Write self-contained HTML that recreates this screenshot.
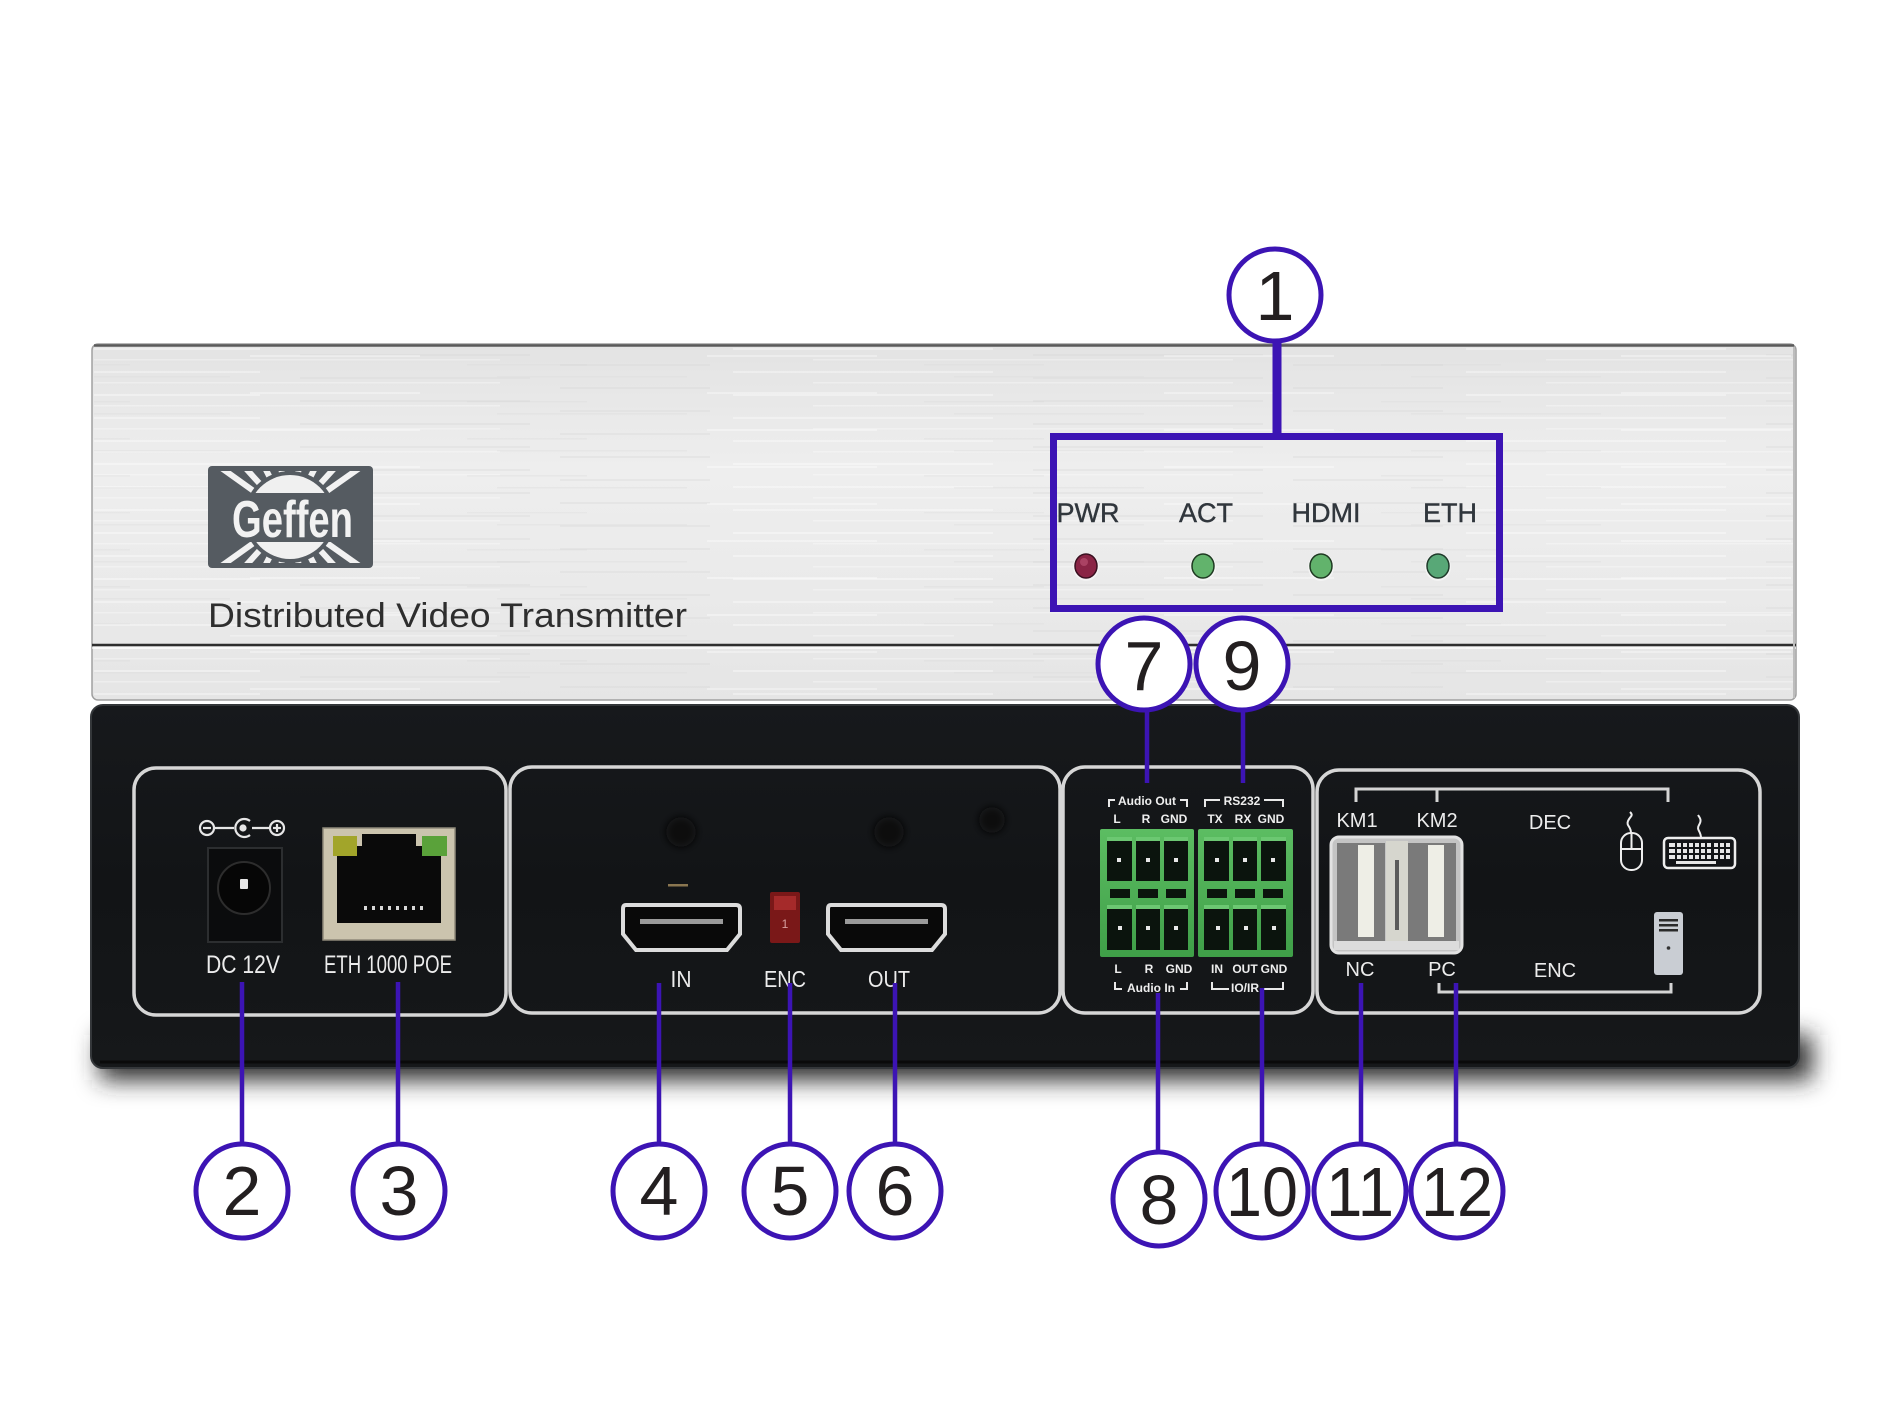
<!DOCTYPE html>
<html>
<head>
<meta charset="utf-8">
<style>
  html,body{margin:0;padding:0;background:#fff;}
  svg{display:block;}
  text{font-family:"Liberation Sans", Arial, sans-serif;}
</style>
</head>
<body>
<svg width="1890" height="1417" viewBox="0 0 1890 1417" xmlns="http://www.w3.org/2000/svg">
  <defs>
    <linearGradient id="silver" x1="0" y1="0" x2="0" y2="1">
      <stop offset="0" stop-color="#e3e3e3"/>
      <stop offset="0.35" stop-color="#eeeeee"/>
      <stop offset="0.7" stop-color="#eaeaea"/>
      <stop offset="1" stop-color="#e5e5e5"/>
    </linearGradient>
    <pattern id="brush" width="733" height="23" patternUnits="userSpaceOnUse">
      <rect x="0" y="3" width="260" height="2" fill="#ffffff" opacity="0.35"/>
      <rect x="300" y="9" width="230" height="2" fill="#d4d4d4" opacity="0.3"/>
      <rect x="80" y="14" width="420" height="1.5" fill="#ffffff" opacity="0.3"/>
      <rect x="560" y="19" width="150" height="2" fill="#d6d6d6" opacity="0.3"/>
    </pattern>
    <pattern id="brush2" width="457" height="37" patternUnits="userSpaceOnUse">
      <rect x="40" y="6" width="190" height="1.5" fill="#d8d8d8" opacity="0.3"/>
      <rect x="250" y="22" width="170" height="2" fill="#ffffff" opacity="0.35"/>
      <rect x="10" y="31" width="120" height="1.5" fill="#d2d2d2" opacity="0.25"/>
    </pattern>
    <linearGradient id="blk" x1="0" y1="0" x2="0" y2="1">
      <stop offset="0" stop-color="#17191c"/>
      <stop offset="0.5" stop-color="#121416"/>
      <stop offset="1" stop-color="#16181a"/>
    </linearGradient>
    <linearGradient id="green" x1="0" y1="0" x2="0" y2="1">
      <stop offset="0" stop-color="#5cbd62"/>
      <stop offset="1" stop-color="#3f9f48"/>
    </linearGradient>
    <filter id="blur" x="-10%" y="-100%" width="120%" height="300%">
      <feGaussianBlur stdDeviation="12"/>
    </filter>
    <filter id="soft" x="-50%" y="-50%" width="200%" height="200%">
      <feGaussianBlur stdDeviation="4"/>
    </filter>
    <clipPath id="logoclip"><rect x="213" y="471" width="155" height="92" rx="2"/></clipPath>
  </defs>

  <rect width="1890" height="1417" fill="#ffffff"/>

  <!-- ===== Silver front panel ===== -->
  <rect x="92" y="344" width="1704" height="356" rx="6" fill="url(#silver)" stroke="#a0a0a0" stroke-width="1.5"/>
  <rect x="94" y="347" width="1700" height="350" fill="url(#brush)"/>
  <rect x="94" y="347" width="1700" height="350" fill="url(#brush2)"/>
  <line x1="94" y1="345.5" x2="1794" y2="345.5" stroke="#5a5a5a" stroke-width="2.5"/>
  <line x1="92" y1="645" x2="1796" y2="645" stroke="#2e2e2e" stroke-width="2.5"/>
  <line x1="92" y1="648" x2="1796" y2="648" stroke="#ffffff" stroke-width="1.5" opacity="0.8"/>
  <line x1="1794" y1="347" x2="1794" y2="698" stroke="#bdbdbd" stroke-width="2"/>

  <!-- Geffen logo -->
  <rect x="208" y="466" width="165" height="102" rx="4" fill="#555b61"/>
  <g clip-path="url(#logoclip)" stroke="#f2f2f2" stroke-width="6">
    <line x1="290" y1="517" x2="213" y2="462"/>
    <line x1="290" y1="517" x2="240" y2="462"/>
    <line x1="290" y1="517" x2="262" y2="462"/>
    <line x1="290" y1="517" x2="280" y2="462"/>
    <line x1="290" y1="517" x2="300" y2="462"/>
    <line x1="290" y1="517" x2="318" y2="462"/>
    <line x1="290" y1="517" x2="340" y2="462"/>
    <line x1="290" y1="517" x2="368" y2="462"/>
    <line x1="290" y1="517" x2="213" y2="572"/>
    <line x1="290" y1="517" x2="240" y2="572"/>
    <line x1="290" y1="517" x2="262" y2="572"/>
    <line x1="290" y1="517" x2="280" y2="572"/>
    <line x1="290" y1="517" x2="300" y2="572"/>
    <line x1="290" y1="517" x2="318" y2="572"/>
    <line x1="290" y1="517" x2="340" y2="572"/>
    <line x1="290" y1="517" x2="368" y2="572"/>
  </g>
  <circle cx="290" cy="517" r="46" fill="#555b61"/>
  <circle cx="290" cy="517" r="42" fill="#f0f0f0"/>
  <rect x="208" y="493" width="165" height="49" fill="#555b61"/>
  <text x="232" y="537" font-size="52" font-weight="bold" fill="#f2f2f2" textLength="121" lengthAdjust="spacingAndGlyphs">Geffen</text>

  <text x="208" y="627" font-size="34" fill="#2e2e2e" textLength="479" lengthAdjust="spacingAndGlyphs">Distributed Video Transmitter</text>

  <!-- LED labels -->
  <g font-size="27" fill="#30363c" text-anchor="middle" stroke="#30363c" stroke-width="0.4">
    <text x="1088" y="522">PWR</text>
    <text x="1206" y="522">ACT</text>
    <text x="1326" y="522">HDMI</text>
    <text x="1450" y="522">ETH</text>
  </g>
  <!-- LEDs -->
  <ellipse cx="1086" cy="567" rx="13" ry="14" fill="#f4f4f4"/>
  <ellipse cx="1086" cy="566" rx="11" ry="12" fill="#8a2445" stroke="#3a1020" stroke-width="1.5"/>
  <ellipse cx="1084" cy="562" rx="4" ry="4" fill="#b85070" opacity="0.7"/>
  <g>
    <ellipse cx="1203" cy="567" rx="13" ry="14" fill="#f4f4f4"/>
    <ellipse cx="1203" cy="566" rx="11" ry="12" fill="#62b36c" stroke="#1f3a22" stroke-width="1.5"/>
    <ellipse cx="1321" cy="567" rx="13" ry="14" fill="#f4f4f4"/>
    <ellipse cx="1321" cy="566" rx="11" ry="12" fill="#62b36c" stroke="#1f3a22" stroke-width="1.5"/>
    <ellipse cx="1438" cy="567" rx="13" ry="14" fill="#f4f4f4"/>
    <ellipse cx="1438" cy="566" rx="11" ry="12" fill="#58a877" stroke="#1f3a2a" stroke-width="1.5"/>
  </g>

  <!-- ===== Shadow + black rear panel ===== -->
  <rect x="100" y="1035" width="1712" height="45" fill="#2a2a2a" filter="url(#blur)"/>
  <rect x="91" y="705" width="1708" height="363" rx="12" fill="url(#blk)" stroke="#34373a" stroke-width="2"/>
  <line x1="100" y1="1062" x2="1790" y2="1062" stroke="#0a0a0a" stroke-width="3"/>

  <!-- Section outlines -->
  <g fill="none" stroke="#d6d6d6" stroke-width="3.5">
    <rect x="134" y="768" width="372" height="247" rx="22"/>
    <rect x="510" y="767" width="550" height="246" rx="22"/>
    <rect x="1063" y="767" width="250" height="246" rx="22"/>
    <rect x="1317" y="770" width="443" height="243" rx="22"/>
  </g>

  <!-- Section 1: DC + ETH -->
  <g stroke="#e6e6e6" stroke-width="2.2" fill="none">
    <circle cx="207" cy="828" r="7"/>
    <line x1="203" y1="828" x2="211" y2="828"/>
    <line x1="214" y1="828" x2="234" y2="828"/>
    <path d="M250,821 A9,9 0 1 0 250,835"/>
    <circle cx="243" cy="828" r="2.5" fill="#e6e6e6"/>
    <line x1="252" y1="828" x2="270" y2="828"/>
    <circle cx="277" cy="828" r="7"/>
    <line x1="273" y1="828" x2="281" y2="828"/>
    <line x1="277" y1="824" x2="277" y2="832"/>
  </g>
  <rect x="208" y="848" width="74" height="94" fill="#0b0c0d" stroke="#2c2e30" stroke-width="2"/>
  <circle cx="244" cy="888" r="26" fill="#060606" stroke="#2d2d2d" stroke-width="2"/>
  <rect x="240" y="879" width="8" height="10" rx="1" fill="#e6e6e6"/>
  <text x="243" y="973" font-size="25" fill="#ececec" text-anchor="middle" textLength="74" lengthAdjust="spacingAndGlyphs">DC 12V</text>

  <rect x="323" y="828" width="132" height="112" fill="#cbc4ae" stroke="#8f8a7a" stroke-width="1.5"/>
  <rect x="337" y="846" width="104" height="77" fill="#0a0a0a"/>
  <rect x="362" y="834" width="54" height="14" fill="#0a0a0a"/>
  <rect x="333" y="836" width="24" height="20" fill="#a2a52a"/>
  <rect x="422" y="836" width="25" height="20" fill="#5aa23a"/>
  <g fill="#d8d8d8">
    <rect x="364" y="906" width="3" height="4"/><rect x="372" y="906" width="3" height="4"/>
    <rect x="380" y="906" width="3" height="4"/><rect x="388" y="906" width="3" height="4"/>
    <rect x="396" y="906" width="3" height="4"/><rect x="404" y="906" width="3" height="4"/>
    <rect x="412" y="906" width="3" height="4"/><rect x="420" y="906" width="3" height="4"/>
  </g>
  <text x="388" y="973" font-size="25" fill="#ececec" text-anchor="middle" textLength="128" lengthAdjust="spacingAndGlyphs">ETH 1000 POE</text>

  <!-- Section 2: HDMI -->
  <circle cx="681" cy="832" r="15" fill="#070707" filter="url(#soft)"/>
  <circle cx="889" cy="832" r="15" fill="#070707" filter="url(#soft)"/>
  <circle cx="992" cy="820" r="13" fill="#080808" filter="url(#soft)"/>
  <rect x="668" y="884" width="20" height="2.5" fill="#8a7650"/>
  <path d="M626,905 L736,905 Q740,905 740,909 L740,934 L727,950 L636,950 L623,934 L623,909 Q623,905 626,905 Z" fill="#090909" stroke="#dcdcdc" stroke-width="4"/>
  <rect x="640" y="919" width="83" height="5" fill="#9a9a9a"/>
  <rect x="770" y="892" width="30" height="51" rx="2" fill="#7a1818"/>
  <rect x="774" y="896" width="22" height="14" fill="#a52a2a"/>
  <text x="785" y="928" font-size="12" fill="#d8a0a0" text-anchor="middle">1</text>
  <path d="M831,905 L941,905 Q945,905 945,909 L945,934 L932,950 L841,950 L828,934 L828,909 Q828,905 831,905 Z" fill="#090909" stroke="#dcdcdc" stroke-width="4"/>
  <rect x="845" y="919" width="83" height="5" fill="#9a9a9a"/>
  <g font-size="23" fill="#ececec" text-anchor="middle">
    <text x="681" y="987" textLength="21" lengthAdjust="spacingAndGlyphs">IN</text>
    <text x="785" y="987" textLength="42" lengthAdjust="spacingAndGlyphs">ENC</text>
    <text x="889" y="987" textLength="42" lengthAdjust="spacingAndGlyphs">OUT</text>
  </g>

  <!-- Section 3: terminal blocks -->
  <g stroke="#e8e8e8" stroke-width="2" fill="none">
    <polyline points="1109,807 1109,800 1115,800"/>
    <polyline points="1180,800 1187,800 1187,807"/>
    <polyline points="1205,807 1205,800 1220,800"/>
    <polyline points="1264,800 1283,800 1283,807"/>
    <polyline points="1115,982 1115,989 1122,989"/>
    <polyline points="1180,989 1187,989 1187,982"/>
    <polyline points="1212,982 1212,989 1229,989"/>
    <polyline points="1262,989 1283,989 1283,982"/>
  </g>
  <g font-size="12" font-weight="bold" fill="#eeeeee" text-anchor="middle">
    <text x="1147" y="805">Audio Out</text>
    <text x="1242" y="805">RS232</text>
    <text x="1117" y="823">L</text>
    <text x="1146" y="823">R</text>
    <text x="1174" y="823">GND</text>
    <text x="1215" y="823">TX</text>
    <text x="1243" y="823">RX</text>
    <text x="1271" y="823">GND</text>
    <text x="1118" y="973">L</text>
    <text x="1149" y="973">R</text>
    <text x="1179" y="973">GND</text>
    <text x="1217" y="973">IN</text>
    <text x="1245" y="973">OUT</text>
    <text x="1274" y="973">GND</text>
    <text x="1151" y="992">Audio In</text>
    <text x="1245" y="992">IO/IR</text>
  </g>
  <g>
    <rect x="1100" y="829" width="94" height="128" rx="2" fill="url(#green)"/>
    <rect x="1198" y="829" width="95" height="128" rx="2" fill="url(#green)"/>
    <g fill="#0b140d">
      <rect x="1107" y="837" width="25" height="44"/>
      <rect x="1136" y="837" width="24" height="44"/>
      <rect x="1164" y="837" width="24" height="44"/>
      <rect x="1204" y="837" width="25" height="44"/>
      <rect x="1233" y="837" width="24" height="44"/>
      <rect x="1261" y="837" width="25" height="44"/>
      <rect x="1107" y="905" width="25" height="45"/>
      <rect x="1136" y="905" width="24" height="45"/>
      <rect x="1164" y="905" width="24" height="45"/>
      <rect x="1204" y="905" width="25" height="45"/>
      <rect x="1233" y="905" width="24" height="45"/>
      <rect x="1261" y="905" width="25" height="45"/>
      <rect x="1110" y="889" width="20" height="9"/>
      <rect x="1138" y="889" width="20" height="9"/>
      <rect x="1166" y="889" width="20" height="9"/>
      <rect x="1207" y="889" width="20" height="9"/>
      <rect x="1235" y="889" width="20" height="9"/>
      <rect x="1263" y="889" width="20" height="9"/>
    </g>
    <g fill="#6cc872">
      <rect x="1107" y="837" width="25" height="4"/>
      <rect x="1136" y="837" width="24" height="4"/>
      <rect x="1164" y="837" width="24" height="4"/>
      <rect x="1204" y="837" width="25" height="4"/>
      <rect x="1233" y="837" width="24" height="4"/>
      <rect x="1261" y="837" width="25" height="4"/>
      <rect x="1107" y="905" width="25" height="4"/>
      <rect x="1136" y="905" width="24" height="4"/>
      <rect x="1164" y="905" width="24" height="4"/>
      <rect x="1204" y="905" width="25" height="4"/>
      <rect x="1233" y="905" width="24" height="4"/>
      <rect x="1261" y="905" width="25" height="4"/>
    </g>
    <g fill="#e8e8e8">
      <rect x="1117" y="858" width="4" height="4"/><rect x="1146" y="858" width="4" height="4"/><rect x="1174" y="858" width="4" height="4"/>
      <rect x="1215" y="858" width="4" height="4"/><rect x="1243" y="858" width="4" height="4"/><rect x="1271" y="858" width="4" height="4"/>
      <rect x="1118" y="926" width="4" height="4"/><rect x="1146" y="926" width="4" height="4"/><rect x="1174" y="926" width="4" height="4"/>
      <rect x="1216" y="926" width="4" height="4"/><rect x="1244" y="926" width="4" height="4"/><rect x="1272" y="926" width="4" height="4"/>
    </g>
  </g>

  <!-- Section 4: USB KM -->
  <g stroke="#d4d4d4" stroke-width="3" fill="none">
    <polyline points="1356,802 1356,789 1668,789 1668,802"/>
    <line x1="1437" y1="789" x2="1437" y2="802"/>
    <polyline points="1439,983 1439,992 1671,992 1671,983"/>
  </g>
  <g font-size="20" fill="#ececec" text-anchor="middle">
    <text x="1357" y="827">KM1</text>
    <text x="1437" y="827">KM2</text>
    <text x="1550" y="829">DEC</text>
    <text x="1360" y="976">NC</text>
    <text x="1442" y="976">PC</text>
    <text x="1555" y="977">ENC</text>
  </g>
  <rect x="1331" y="837" width="131" height="116" rx="8" fill="#c4c4c4" stroke="#e2e2e2" stroke-width="3"/>
  <rect x="1337" y="843" width="48" height="100" fill="#7a7a7a"/>
  <rect x="1358" y="845" width="16" height="92" fill="#eeeee6"/>
  <rect x="1386" y="841" width="22" height="107" fill="#d6d6ce"/>
  <rect x="1395" y="860" width="4" height="70" fill="#5a5a5a"/>
  <rect x="1408" y="843" width="48" height="100" fill="#7a7a7a"/>
  <rect x="1428" y="845" width="16" height="92" fill="#eeeee6"/>
  <rect x="1334" y="941" width="125" height="9" fill="#dcdcdc"/>

  <!-- mouse -->
  <g stroke="#eeeeee" stroke-width="2" fill="none">
    <rect x="1621" y="833" width="21" height="37" rx="10"/>
    <line x1="1621" y1="849" x2="1642" y2="849"/>
    <line x1="1631.5" y1="833" x2="1631.5" y2="849"/>
    <path d="M1631,833 C1631,826 1626,826 1628,821 C1630,816 1634,816 1630,812"/>
  </g>
  <!-- keyboard -->
  <rect x="1664" y="838" width="71" height="30" rx="4" fill="none" stroke="#eeeeee" stroke-width="2.5"/>
  <g fill="#e6e6e6">
    <rect x="1669" y="843" width="61" height="4"/>
    <rect x="1669" y="849" width="61" height="4"/>
    <rect x="1669" y="855" width="61" height="4"/>
    <rect x="1676" y="861" width="40" height="3"/>
  </g>
  <g fill="#131517">
    <rect x="1675" y="843" width="2" height="16"/><rect x="1681" y="843" width="2" height="16"/>
    <rect x="1687" y="843" width="2" height="16"/><rect x="1693" y="843" width="2" height="16"/>
    <rect x="1699" y="843" width="2" height="16"/><rect x="1705" y="843" width="2" height="16"/>
    <rect x="1711" y="843" width="3" height="16"/><rect x="1718" y="843" width="2" height="16"/>
    <rect x="1724" y="843" width="2" height="16"/>
  </g>
  <path d="M1701,838 C1701,831 1696,830 1699,825 C1702,820 1700,818 1698,815" stroke="#eeeeee" stroke-width="2" fill="none"/>
  <!-- pc tower -->
  <rect x="1654" y="912" width="29" height="63" rx="3" fill="#c9cdd3"/>
  <rect x="1659" y="919" width="19" height="2.5" fill="#2a2a2a"/>
  <rect x="1659" y="924" width="19" height="2.5" fill="#2a2a2a"/>
  <rect x="1659" y="929" width="19" height="2.5" fill="#2a2a2a"/>
  <circle cx="1668.5" cy="948" r="1.8" fill="#333"/>

  <!-- ===== Callouts ===== -->
  <g stroke="#3c14b4" fill="none" stroke-linecap="butt">
    <line x1="1277" y1="340" x2="1277" y2="436" stroke-width="9"/>
    <rect x="1053.5" y="436.5" width="446" height="172" stroke-width="7"/>
    <line x1="1147" y1="708" x2="1147" y2="783" stroke-width="4.5"/>
    <line x1="1243" y1="708" x2="1243" y2="783" stroke-width="4.5"/>
    <line x1="242" y1="982" x2="242" y2="1146" stroke-width="4.5"/>
    <line x1="398" y1="982" x2="398" y2="1146" stroke-width="4.5"/>
    <line x1="659" y1="983" x2="659" y2="1146" stroke-width="4.5"/>
    <line x1="790" y1="983" x2="790" y2="1146" stroke-width="4.5"/>
    <line x1="895" y1="983" x2="895" y2="1146" stroke-width="4.5"/>
    <line x1="1158" y1="993" x2="1158" y2="1154" stroke-width="4.5"/>
    <line x1="1262" y1="988" x2="1262" y2="1146" stroke-width="4.5"/>
    <line x1="1361" y1="983" x2="1361" y2="1146" stroke-width="4.5"/>
    <line x1="1456" y1="983" x2="1456" y2="1146" stroke-width="4.5"/>
  </g>
  <g stroke="#3c14b4" stroke-width="5" fill="#ffffff">
    <ellipse cx="1275" cy="295" rx="46" ry="46"/>
    <ellipse cx="1144" cy="664" rx="46" ry="46"/>
    <ellipse cx="1242" cy="664" rx="46" ry="46"/>
    <ellipse cx="242" cy="1191" rx="46" ry="47"/>
    <ellipse cx="399" cy="1191" rx="46" ry="47"/>
    <ellipse cx="659" cy="1191" rx="46" ry="47"/>
    <ellipse cx="790" cy="1191" rx="46" ry="47"/>
    <ellipse cx="895" cy="1191" rx="46" ry="47"/>
    <ellipse cx="1159" cy="1199" rx="46" ry="47"/>
    <ellipse cx="1262" cy="1191" rx="46" ry="47"/>
    <ellipse cx="1360" cy="1191" rx="46" ry="47"/>
    <ellipse cx="1457" cy="1191" rx="46" ry="47"/>
  </g>
  <g font-size="70" fill="#231f20" text-anchor="middle">
    <text x="1275" y="320">1</text>
    <text x="1144" y="690">7</text>
    <text x="1242" y="690">9</text>
    <text x="242" y="1215">2</text>
    <text x="399" y="1215">3</text>
    <text x="659" y="1215">4</text>
    <text x="790" y="1215">5</text>
    <text x="895" y="1215">6</text>
    <text x="1159" y="1224">8</text>
    <text x="1262" y="1216" textLength="72" lengthAdjust="spacingAndGlyphs">10</text>
    <text x="1360" y="1216" textLength="68" lengthAdjust="spacingAndGlyphs">11</text>
    <text x="1457" y="1216" textLength="72" lengthAdjust="spacingAndGlyphs">12</text>
  </g>
</svg>
</body>
</html>
